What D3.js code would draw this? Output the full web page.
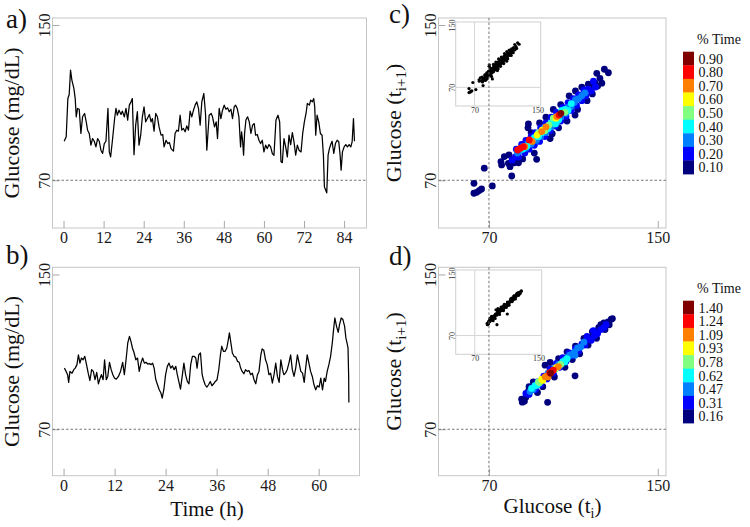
<!DOCTYPE html>
<html>
<head>
<meta charset="utf-8">
<script src="https://cdn.jsdelivr.net/npm/d3@7.9.0/dist/d3.min.js"></script>
<style>
  body { margin: 0; background: #fff; }
  svg { display: block; }
  svg text { font-family: "Liberation Serif", "Times New Roman", serif; }
</style>
</head>
<body>
<svg id="chart" width="750" height="527"></svg>
<script>
// ---- data ----
// [hour, glucose mg/dL]
const seriesA = [[0.2,90.1],[0.8,92.4],[1.3,112.1],[1.7,114.2],[2.1,126.8],[2.5,121.6],[3.1,117.3],[3.5,112.1],[3.8,102.7],[4.2,107],[4.7,106.6],[5.2,94.1],[5.7,102.7],[6.3,104.4],[6.8,100.1],[7.2,95.8],[7.7,94.1],[8.2,88.1],[8.7,91.5],[9.2,90.1],[9.7,87.2],[10.2,91.5],[10.7,90.1],[11.2,85.5],[11.7,83.8],[12.2,88.9],[12.7,90.1],[13.3,107],[13.7,84.6],[14.1,82],[14.7,91.5],[15.3,101.8],[15.7,107],[16.1,103.5],[16.6,106.1],[17.2,103.9],[17.6,105.6],[18.2,102.7],[18.7,107],[19.2,101],[19.7,108.7],[20.2,110.4],[20.6,112.1],[21.1,83.2],[21.6,98.4],[22.1,105.3],[22.6,88.1],[23.1,93.2],[23.6,102.7],[24.1,107.8],[24.6,100.1],[25.1,101.8],[25.7,103.9],[26.2,100.1],[26.6,101.8],[27.1,95.3],[27.6,104.4],[28.1,102.7],[28.6,97.5],[29.2,93.2],[29.7,93.6],[30.1,87.2],[30.7,90.6],[31.2,88.9],[31.7,89.4],[32.2,86.3],[32.9,85],[33.4,94.1],[33.9,95.8],[34.4,95.3],[34.9,103.5],[35.4,95.8],[35.9,96.7],[36.4,95],[36.9,98],[37.4,95.8],[37.9,105.6],[38.4,102.7],[38.9,106.1],[39.4,108.7],[39.9,110.4],[40.4,107],[40.9,98.4],[41.4,110.4],[42,114.7],[42.5,104.4],[42.9,85.5],[43.6,103.5],[44.2,104.4],[44.6,102.7],[45.2,97.5],[45.7,100.1],[46.1,91.5],[46.6,107],[47.1,101.8],[47.6,106.1],[48.1,108.7],[48.6,106.6],[49.1,107.3],[49.6,105.3],[50.1,106.6],[50.6,101.8],[51.1,107.8],[51.5,108.7],[52,107],[52.5,102.7],[53,87.2],[53.3,94.9],[53.6,90.6],[53.9,82.9],[54.2,94.1],[54.6,101],[55.1,102.7],[55.6,100.1],[56.1,94.1],[56.6,98.4],[57.1,99.2],[57.5,93.2],[58,93.6],[58.5,90.6],[59,88.9],[59.5,90.6],[60,84.6],[60.5,88.1],[61,86.3],[61.5,88.4],[62,87.2],[62.5,83.8],[63,82.9],[63.6,101],[64.2,103.5],[64.7,100.1],[65.1,79.5],[65.5,79.1],[66,91.5],[66.5,87.2],[67,82],[67.5,93.2],[68,88.4],[68.5,94.6],[69,89.8],[69.5,82.9],[70,88.1],[70.5,85.5],[71.1,84.6],[71.6,94.1],[72.1,100.1],[72.6,104.4],[73,109.6],[73.6,108.7],[74,111.3],[74.5,110.4],[74.9,112.1],[75.2,107.8],[75.5,93.2],[75.9,103.5],[76.4,100.1],[76.9,94.1],[77.4,93.2],[77.8,82.9],[78.1,66.6],[78.5,64.8],[78.8,63.5],[79.2,82.9],[79.6,86.3],[80,88.4],[80.4,90.1],[80.9,83.8],[81.4,88.9],[81.9,90.6],[82.4,89.8],[82.8,82.9],[83.1,75.2],[83.5,84.6],[84,87.2],[84.5,88.4],[85,87.2],[85.5,88.4],[86,87.2],[86.4,89.8],[86.8,101.8],[87.1,90.1]];

const seriesB = [[0.2,101.6],[0.6,99.9],[0.95,98.2],[1.2,94.2],[1.5,99.9],[2,99],[2.4,100.8],[2.75,101.6],[3.15,103.4],[3.5,108.5],[3.85,104.2],[4.2,106.8],[4.6,105.9],[5,107.7],[5.4,103.4],[5.8,99],[6.2,95.2],[6.6,100.8],[7,99.9],[7.4,95.6],[7.8,99.4],[8.2,93.5],[8.6,96.4],[8.9,98.2],[9.3,95.6],[9.65,105.9],[10.05,95.6],[10.4,97.3],[10.8,104.6],[11.2,100.8],[11.6,98.2],[12,96.4],[12.4,95.9],[12.9,97.3],[13.4,99.9],[13.9,104.6],[14.3,98.2],[14.7,105.9],[15.1,114.6],[15.5,118],[15.85,115.4],[16.2,112],[16.6,109.4],[17,105.9],[17.4,106.8],[17.8,99.9],[18.2,104.2],[18.6,106.8],[19,104.2],[19.4,104.6],[19.8,103.7],[20.2,103.9],[20.6,103.4],[20.95,104.2],[21.3,101.6],[21.7,95.6],[22.1,93],[22.5,90.4],[22.9,88.7],[23.2,86.1],[23.6,90.7],[24,98.2],[24.4,102.5],[24.8,104.2],[25.2,101.6],[25.6,102.8],[26,100.8],[26.4,102.5],[26.75,98.2],[27.1,94.7],[27.5,90.7],[27.9,97.3],[28.3,104.2],[28.7,98.2],[29.1,94.7],[29.5,93.5],[29.9,103.4],[30.3,107.7],[30.7,107.7],[31.1,106.8],[31.4,101.6],[31.8,108.5],[32.2,109.4],[32.6,98.2],[32.9,95.6],[33.3,93],[33.7,91.8],[34.1,93],[34.5,94.7],[34.9,92.5],[35.3,93.5],[35.7,94.7],[36.1,95.6],[36.5,100.8],[36.9,108.5],[37.2,112.9],[37.6,110.3],[38,110.3],[38.4,112],[38.75,116.3],[39,119.8],[39.3,115.4],[39.7,109.4],[40.1,107.7],[40.5,107.3],[40.9,105.1],[41.3,104.6],[41.65,101.6],[42,99.9],[42.4,98.7],[42.8,100.8],[43.2,99.9],[43.6,100.4],[44,98.2],[44.4,99],[44.8,95.6],[45.2,93.5],[45.6,98.2],[45.96,99.9],[46.4,108.5],[46.7,111.5],[47.1,110.8],[47.5,105.9],[47.9,103.4],[48.3,98.2],[48.7,99],[49.1,93.9],[49.5,98.2],[49.9,104.2],[50.3,97.3],[50.7,94.2],[51.1,105.9],[51.5,100.8],[51.8,98.2],[52.2,99],[52.6,100.8],[53,104.2],[53.4,108.5],[53.8,100.8],[54.2,97.3],[54.6,101.6],[55,108.5],[55.4,104.2],[55.8,99.9],[56.2,99],[56.6,94.2],[56.9,100.8],[57.3,108.5],[57.7,104.2],[58.1,99.9],[58.5,97.3],[58.9,93],[59.3,90.4],[59.7,92.5],[60.1,91.8],[60.5,96.4],[60.9,90.4],[61.3,96.4],[61.6,94.7],[62,99.9],[62.4,103.4],[62.8,107.7],[63.2,114.6],[63.5,121.5],[63.8,127.5],[64.2,123.2],[64.6,120.1],[64.9,124.1],[65.3,127.5],[65.7,126.7],[66.1,123.2],[66.4,117.2],[66.75,113.7],[66.9,112],[67.05,97.3],[67.1,83.8]];

// Poincaré plots: [glucose t_i, glucose t_i+1, colour level 0..8]
const scatterC = [
  [62.9,68.4,0],[62.9,63.3,0],[64.2,63.8,0],[65.4,64.7,0],[66.5,65.5,0],[67.8,76.2,0],[71.6,67.1,0],[75.7,79.6,0],[76,77.9,0],[77.3,82.2,0],[79.2,78.7,0],[80,77,0],[80.8,72.2,0],[79.5,83,0],[82,79,0],[84,79,0],[86,81,0],[88.5,97,0],[88.7,99,0],[91.5,84,0],[92.6,80.8,0],[90,94.5,0],[94,99.5,0],[97,102.5,0],[99,91.5,0],[100,94,0],[103,97,0],[100.5,106.5,0],[104,109,0],[107,100.5,0],[110.8,103.6,0],[112,106.5,0],[108,113.5,0],[111,116,0],[114,118,0],[116.5,111,0],[119,114.5,0],[117.1,119.5,0],[118.7,118.3,0],[120.3,120,0],[121.1,125.1,0],[122.6,122.5,0],[124.7,127.2,0],[126.6,125.4,0],[123.5,120,0],[121.5,118.5,0],
  [81,80.5,1],[82.5,82,1],[83,86,1],[84,82,1],[85.5,88.5,1],[87,84,1],[87.5,90.5,1],[89,86,1],[90,92.5,1],[91.5,88,1],[92,94.5,1],[94,90,1],[94.5,97,1],[96.5,92.5,1],[97,99.5,1],[99,95.5,1],[99.5,102.5,1],[101.5,98,1],[102,105,1],[104,100.5,1],[105,107.5,1],[106.5,103,1],[107.5,110,1],[109,106,1],[110,112,1],[111.5,108.5,1],[112.5,114,1],[114,111,1],[115,116.5,1],[116,113.5,1],[117,117,1],[118.5,116,1],[119.5,121,1],[120.5,118,1],
  [83.5,84,2],[85,85.5,2],[86,87.5,2],[87.5,86.5,2],[88.5,89,2],[90,88.5,2],[91,91,2],[92.5,90.5,2],[93,93.5,2],[94.5,92.5,2],[95.5,96,2],[97,94.5,2],[98,98,2],[99.5,97.5,2],[100.5,100.5,2],[102,99.5,2],[102.5,103,2],[104,102.5,2],[105,105,2],[106.5,104.5,2],[107.5,107.5,2],[109,108,2],[110.5,110,2],[111,111.5,2],[112.5,112,2],[114,113.5,2],[115.5,115,2],
  [86,86,3],[88,87.5,3],[89.5,90,3],[91.5,92,3],[93.5,92.5,3],[95,94.5,3],[96.5,97,3],[98,96.5,3],[99.5,99.5,3],[101,101,3],[101.5,99,3],[103,101,3],[104.5,106,3],[106,106.5,3],[107.5,106,3],[109,109.5,3],
  [93.5,94.5,4],[96.5,95.5,4],[98.5,98.5,4],[100.5,102,4],[106,105,4],
  [92.8,93.3,5],[95.2,95.8,5],[101.8,102,5],
  [95,95.1,6],[97,97.5,6],[102.1,102.8,6],[87,87.3,6],[90.5,90,6],
  [83.6,85.6,7],[86.3,87.3,7],[89.1,90.8,7],[103.2,103.6,7],[85,86.5,7],
  [104.1,104.5,8]
];

const scatterD = [
  [97.8,83.9,0],[110.8,97.6,0],[85.5,85.5,0],[85.8,84,0],[86.8,84.5,0],[87.5,86.5,0],[88.7,89.7,0],[96.6,103.1,0],[89,92,0],[91,94.5,0],[93,89,0],[95.5,92,0],[99,104.5,0],[101,97,0],[103,106.5,0],[106,102,0],[107,110,0],[109.5,106,0],[111,113,0],[113,109,0],[115,117,0],[117,113.5,0],[119,120.5,0],[121,117,0],[123,124,0],[125,121.5,0],[126.5,125.5,0],[127.9,126.8,0],[128.5,127.2,0],[124.5,125,0],[127,124,0],[122,122.5,0],[120,119.5,0],[118,117.5,0],
  [87.5,88.5,1],[89,88,1],[90.5,91.5,1],[92,90.5,1],[93,94.5,1],[94.5,93,1],[96,97.5,1],[97.5,96,1],[99,101,1],[100.5,99,1],[102,104,1],[103.5,102,1],[105,107,1],[106.5,105,1],[108,109.5,1],[109.5,108,1],[111,111.5,1],[112.5,110.5,1],[114,114,1],[115.5,113.5,1],[117,116.5,1],[118.5,116,1],[120,118.5,1],[121.5,119.5,1],[123,121.5,1],[124.5,122.5,1],[125.5,124,1],[119.5,121,1],[116.5,118,1],
  [89.5,89.5,2],[91,90.5,2],[92.5,92.5,2],[98,99,2],[101,101.5,2],[103,103.5,2],[104.5,104,2],[106,106,2],[107.5,107.5,2],[109,108.5,2],[110.5,110,2],[112,112,2],[113.5,112.5,2],[115,115,2],[108.3,108.3,2],[110.8,108.3,2],
  [90.2,91.1,3],[91.8,92.5,3],[93,93,3],[103,102.5,3],[105,105,3],[106,104.8,3],[107,106.5,3],
  [93.4,94.5,4],[94,94,4],[101.5,101,4],[104,103.5,4],
  [95,95.9,5],[95.5,95.3,5],[102,102,5],
  [96.6,97.1,6],[97.5,97.5,6],[102.9,102.3,6],[98,97,6],
  [99.7,99.7,7],[98.8,99.2,7],[100.5,100.5,7],
  [99.3,99,8]
];

const hourTicksA = [0, 12, 24, 36, 48, 60, 72, 84];
const hourTicksB = [0, 12, 24, 36, 48, 60];
const glucoseTicks = [70, 150];
const legendC = ['0.10','0.20','0.30','0.40','0.50','0.60','0.70','0.80','0.90'];
const legendD = ['0.16','0.31','0.47','0.62','0.78','0.93','1.09','1.24','1.40'];

// jet colour bins, lowest first
const jet = ['#00007f','#0000ff','#0080ff','#00ffff','#80ff80','#ffff00','#ff8000','#ff0000','#800000'];

const svg = d3.select('#chart');

// ===== shared panel frame =====
function panel(p) {
  const x = d3.scaleLinear().domain(p.xDom).range([p.l, p.r]);
  const y = d3.scaleLinear().domain(p.yDom).range([p.b, p.t]);
  const g = svg.append('g');

  g.append('rect')
    .attr('x', p.l).attr('y', p.t)
    .attr('width', p.r - p.l).attr('height', p.b - p.t)
    .attr('fill', 'none').attr('stroke', '#c6c6c6');

  const xa = g.append('g')
    .attr('transform', `translate(0,${p.b})`)
    .call(d3.axisBottom(x).tickValues(p.xTicks).tickSize(-7).tickPadding(4));
  xa.select('.domain').remove();
  xa.selectAll('line').attr('stroke', '#a8a8a8');
  xa.selectAll('text').attr('font-size', 16).attr('fill', '#1a1a1a');

  const ya = g.append('g')
    .attr('transform', `translate(${p.l},0)`)
    .call(d3.axisLeft(y).tickValues(glucoseTicks).tickSize(-7));
  ya.select('.domain').remove();
  ya.selectAll('line').attr('stroke', '#a8a8a8');
  ya.selectAll('text')
    .attr('x', null).attr('dy', null)
    .attr('text-anchor', 'middle')
    .attr('transform', 'translate(-2.5,0) rotate(-90)')
    .attr('font-size', 16).attr('fill', '#1a1a1a');

  return { x, y, g };
}

function dashed(g, x1, y1, x2, y2) {
  g.append('line')
    .attr('x1', x1).attr('y1', y1).attr('x2', x2).attr('y2', y2)
    .attr('stroke', '#666').attr('stroke-width', 0.9).attr('stroke-dasharray', '2.5,2');
}

function label(txt, x, y, size) {
  svg.append('text').attr('x', x).attr('y', y)
    .attr('font-size', size).attr('fill', '#111').text(txt);
}

// ===== time series panels =====
function seriesPanel(p, data) {
  const { x, y, g } = panel(p);
  dashed(g, p.l, y(70), p.r, y(70));
  g.append('path')
    .datum(data)
    .attr('d', d3.line().x(d => x(d[0])).y(d => y(d[1])))
    .attr('fill', 'none').attr('stroke', '#000').attr('stroke-width', 1.25)
    .attr('stroke-linejoin', 'round');
}

seriesPanel({ l: 52.5, r: 366.5, t: 18, b: 228, xDom: [-3.3, 90.7], yDom: [45.4, 153.6], xTicks: hourTicksA }, seriesA);
seriesPanel({ l: 52.5, r: 359.5, t: 267.3, b: 475.7, xDom: [-2.6, 69.6], yDom: [46, 153.7], xTicks: hourTicksB }, seriesB);

// ===== Poincaré panels =====
function inset(p, data) {
  const x = d3.scaleLinear().domain([46, 154]).range([p.l, p.r]);
  const y = d3.scaleLinear().domain([46, 154]).range([p.b, p.t]);
  const g = svg.append('g');
  g.append('rect').attr('x', p.l).attr('y', p.t)
    .attr('width', p.r - p.l).attr('height', p.b - p.t)
    .attr('fill', '#fff').attr('stroke', '#cfcfcf');
  g.append('line').attr('x1', x(70)).attr('x2', x(70)).attr('y1', p.t).attr('y2', p.b).attr('stroke', '#d4d4d4');
  g.append('line').attr('y1', y(70)).attr('y2', y(70)).attr('x1', p.l).attr('x2', p.r).attr('stroke', '#d4d4d4');
  g.selectAll('circle').data(data).join('circle')
    .attr('cx', d => x(d[0])).attr('cy', d => y(d[1])).attr('r', 1.6).attr('fill', '#000');

  const xa = g.append('g').attr('transform', `translate(0,${p.b})`)
    .call(d3.axisBottom(x).tickValues(glucoseTicks).tickSize(0).tickPadding(1.5));
  xa.select('.domain').remove();
  xa.selectAll('text').attr('font-size', 8).attr('fill', '#333');
  const ya = g.append('g').attr('transform', `translate(${p.l},0)`)
    .call(d3.axisLeft(y).tickValues(glucoseTicks).tickSize(0));
  ya.select('.domain').remove();
  ya.selectAll('text').attr('x', null).attr('dy', null).attr('text-anchor', 'middle')
    .attr('transform', 'translate(-1,0) rotate(-90)')
    .attr('font-size', 8).attr('fill', '#333');
}

function colorbar(top, labels, titleY) {
  const rows = d3.range(9).reverse(); // top row = highest level
  const yb = d3.scaleBand().domain(rows).range([top, top + 9 * 13.6]);
  const g = svg.append('g');
  g.append('text').attr('x', 719).attr('y', titleY).attr('text-anchor', 'middle')
    .attr('font-size', 14).attr('fill', '#111').text('% Time');
  g.selectAll('rect').data(rows).join('rect')
    .attr('x', 683).attr('y', d => yb(d)).attr('width', 11).attr('height', yb.bandwidth() + 0.3)
    .attr('fill', d => jet[d]);
  g.selectAll('text.lbl').data(rows).join('text').attr('class', 'lbl')
    .attr('x', 698.5).attr('y', d => yb(d) + yb.bandwidth() / 2 + 5)
    .attr('font-size', 14).attr('fill', '#111').text(d => labels[d]);
}

function poincarePanel(p, data, ins) {
  const { x, y, g } = panel(p);
  dashed(g, p.l, y(70), p.r, y(70));
  const pts = data.slice().sort((a, b) => a[2] - b[2]);
  g.selectAll('circle').data(pts).join('circle')
    .attr('cx', d => x(d[0])).attr('cy', d => y(d[1]))
    .attr('r', 3.4).attr('fill', d => jet[d[2]]);
  inset(ins, data);
  dashed(svg, x(70), p.t, x(70), p.b);
}

poincarePanel({ l: 438.5, r: 666, t: 18, b: 228, xDom: [46.1, 153.9], yDom: [45.4, 153.6], xTicks: glucoseTicks },
  scatterC, { l: 455.7, r: 540.7, t: 22, b: 106 });
poincarePanel({ l: 438.5, r: 666, t: 267.3, b: 475.7, xDom: [46.1, 153.9], yDom: [46, 153.7], xTicks: glucoseTicks },
  scatterD, { l: 455.7, r: 541.7, t: 270, b: 354.3 });

colorbar(51.7, legendC, 44);
colorbar(300.7, legendD, 293);

// ===== titles and panel letters =====
function yTitle(x, cy, parts) {
  const t = svg.append('text')
    .attr('transform', `translate(${x},${cy}) rotate(-90)`)
    .attr('text-anchor', 'middle').attr('font-size', 22).attr('fill', '#111');
  parts.forEach(([s, sub]) => {
    t.append('tspan').attr('font-size', sub ? 15 : 22).attr('dy', sub ? 5 : (t.node().childNodes.length ? -5 : 0)).text(s);
  });
}

yTitle(24, 123, [['Glucose (mg/dL)', false]]);
yTitle(24, 371.5, [['Glucose (mg/dL)', false]]);
yTitle(406, 123, [['Glucose (t', false], ['i+1', true], [')', false]]);
yTitle(406, 371.5, [['Glucose (t', false], ['i+1', true], [')', false]]);

svg.append('text').attr('x', 207).attr('y', 516).attr('text-anchor', 'middle')
  .attr('font-size', 21).attr('fill', '#111').text('Time (h)');
const xt = svg.append('text').attr('x', 552.5).attr('y', 513).attr('text-anchor', 'middle')
  .attr('font-size', 21).attr('fill', '#111');
xt.append('tspan').text('Glucose (t');
xt.append('tspan').attr('font-size', 14).attr('dy', 5).text('i');
xt.append('tspan').attr('dy', -5).text(')');

label('a)', 6, 28, 27);
label('b)', 6, 264, 27);
label('c)', 389, 23, 27);
label('d)', 389, 265, 27);
</script>
</body>
</html>
